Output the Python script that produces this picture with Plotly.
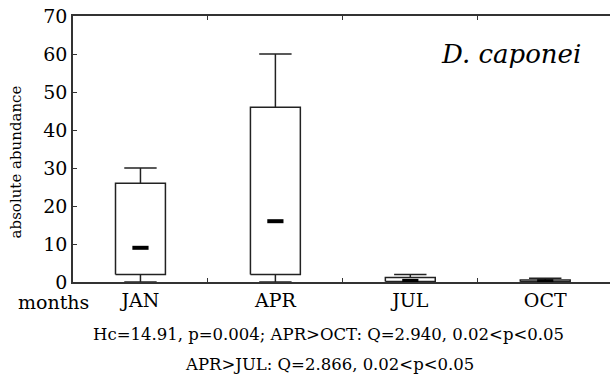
import plotly.graph_objects as go

months = ["JAN", "APR", "JUL", "OCT"]
minimum = [0, 0, 0, 0]
q1 = [2, 2, 0.1, 0.05]
median = [9, 16, 0.3, 0.2]
q3 = [26, 46, 1.2, 0.5]
maximum = [30, 60, 2, 1]

y_ticks = [0, 10, 20, 30, 40, 50, 60, 70]

FONT = "DejaVu Serif"
LC = "#222222"
BOX_HW = 0.185
CAP_HW = 0.12
MED_HW = 0.06

bx, by = [], []
wx, wy = [], []
mx, my = [], []
for i in range(len(months)):
    c = i
    bx += [c - BOX_HW, c + BOX_HW, c + BOX_HW, c - BOX_HW, c - BOX_HW, None]
    by += [q1[i], q1[i], q3[i], q3[i], q1[i], None]
    wx += [c, c, None, c - CAP_HW, c + CAP_HW, None]
    wy += [q3[i], maximum[i], None, maximum[i], maximum[i], None]
    wx += [c, c, None, c - CAP_HW, c + CAP_HW, None]
    wy += [q1[i], minimum[i], None, minimum[i], minimum[i], None]
    mx += [c - MED_HW, c + MED_HW, None]
    my += [median[i], median[i], None]

fig = go.Figure()
fig.add_trace(go.Scatter(x=wx, y=wy, mode="lines", line=dict(color=LC, width=1.5),
                         hoverinfo="skip", cliponaxis=False))
fig.add_trace(go.Scatter(x=bx, y=by, mode="lines", line=dict(color=LC, width=1.5),
                         fill="toself", fillcolor="white",
                         hoverinfo="skip", cliponaxis=False))
fig.add_trace(go.Scatter(x=mx, y=my, mode="lines", line=dict(color="black", width=4),
                         hoverinfo="skip", cliponaxis=False))

fig.update_layout(
    width=610, height=386,
    margin=dict(l=73, r=0, t=16, b=104),
    plot_bgcolor="white", paper_bgcolor="white",
    showlegend=False,
    font=dict(family=FONT, color="black", size=19),
    xaxis=dict(
        range=[-0.5, 3.48],
        tickvals=list(range(len(months))), ticktext=months,
        ticks="", showgrid=False, zeroline=False,
        showline=True, linecolor="#333333", linewidth=1.5, mirror="ticks",
        minor=dict(tickvals=[0.5, 1.5, 2.5], ticks="inside", ticklen=4,
                   tickcolor="#333333", showgrid=False),
        tickfont=dict(family=FONT, size=19, color="black"),
    ),
    yaxis=dict(
        range=[0, 70], tickvals=y_ticks,
        ticks="inside", ticklen=4, tickcolor="#333333",
        showgrid=False, zeroline=False,
        showline=True, linecolor="#333333", linewidth=1.5,
        tickfont=dict(family=FONT, size=19, color="black"),
    ),
    annotations=[
        dict(text="absolute abundance", xref="paper", yref="paper", x=-0.106, y=0.45,
             xanchor="center", yanchor="middle", textangle=-90, showarrow=False,
             font=dict(family=FONT, size=15)),
        dict(text="months", xref="paper", yref="paper", x=-0.036, y=-0.076,
             xanchor="center", yanchor="middle", showarrow=False,
             font=dict(family=FONT, size=19)),
        dict(text="<i>D. caponei</i>", xref="x", yref="y", x=3.28, y=60,
             xanchor="right", yanchor="middle", showarrow=False,
             font=dict(family=FONT, size=26)),
        dict(text="Hc=14.91, p=0.004; APR>OCT: Q=2.940, 0.02<p<0.05", xref="paper", yref="paper",
             x=0.475, y=-0.199, xanchor="center", yanchor="middle", showarrow=False,
             font=dict(family=FONT, size=16.5)),
        dict(text="APR>JUL: Q=2.866, 0.02<p<0.05", xref="paper", yref="paper",
             x=0.477, y=-0.312, xanchor="center", yanchor="middle", showarrow=False,
             font=dict(family=FONT, size=16.5)),
    ],
)

fig.write_html("out.html")
